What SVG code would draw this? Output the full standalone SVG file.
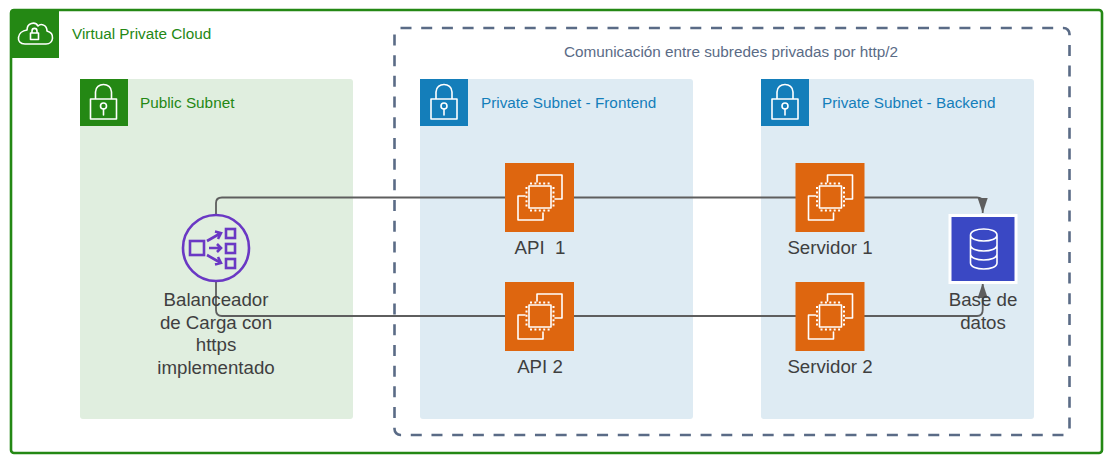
<svg xmlns="http://www.w3.org/2000/svg" width="1116" height="468" viewBox="0 0 1116 468">
<style>
text{font-family:"Liberation Sans",Arial,sans-serif}
.lbl{font-size:18.7px;fill:#3f3f3f;text-anchor:middle;white-space:pre}
.ttl{font-size:15.3px}
.gr{fill:#248814}.bl{fill:#147eba}
.ico{fill:none;stroke:#fff;stroke-width:1.6;stroke-linejoin:round;stroke-linecap:round}
.pin{fill:none;stroke:#fff;stroke-width:2}
.con{fill:none;stroke:#5e5e5e;stroke-width:1.8}
.lb{fill:none;stroke:#6a38c4;stroke-width:2.6}
</style>
<defs>
<marker id="arr" markerUnits="userSpaceOnUse" markerWidth="15" markerHeight="10" refX="15" refY="5" orient="auto" viewBox="0 0 15 10"><path d="M0 0L15 5L0 10Z" fill="#5e5e5e"/></marker>
<g id="lock"><path class="ico" d="M-13 -1H13V19H-13ZM-8 -1V-8C-8 -18 8 -18 8 -8V-1"/><circle class="ico" cx="0" cy="6" r="3"/><path class="ico" d="M0 9V15"/></g>
<g id="ec2"><rect width="69" height="69" fill="#de660f"/>
<path class="ico" d="M32 19V12H57V36H50M20 33H13V57H38V50"/>
<rect class="ico" x="24" y="23" width="22" height="22"/>
<path class="pin" stroke-dasharray="2 2.4" d="M25 20.500H46M25 47.500H46M21.500 24V45M48.500 24V45"/></g>
</defs>

<g id="vpc"><rect x="11" y="10" width="1091" height="443" rx="3" fill="#fff" stroke="#248814" stroke-width="2.6"/>
<path class="gr" d="M10 13Q10 9 14 9H59V58H10Z"/>
<path class="ico" d="M25 44H46C54 44 55 33 47 31C47 25 41 23 38 26C35 21 27 23 27 30C17 31 15 44 25 44Z"/>
<path class="ico" d="M30.500 33H38.500V39.500H30.500ZM32 33V31C32 27.500 37 27.500 37 31V33"/>
<text class="ttl gr" x="72" y="39">Virtual Private Cloud</text></g>

<g id="group-http2"><rect x="394.500" y="28" width="675" height="407" rx="6" fill="none" stroke="#5a6b86" stroke-width="2.600" stroke-dasharray="11 9.700"/>
<text class="ttl" x="731" y="57" text-anchor="middle" fill="#5a6b86">Comunicación entre subredes privadas por http/2</text></g>

<g id="public-subnet"><rect x="80" y="79" width="273" height="340" rx="3" fill="#e0eedf"/>
<rect x="80" y="79" width="48" height="47" class="gr"/><use href="#lock" x="103.500" y="100"/>
<text class="ttl gr" x="140" y="108">Public Subnet</text></g>

<g id="private-frontend"><rect x="420" y="79" width="273" height="340" rx="3" fill="#deebf3"/>
<rect x="420" y="79" width="48" height="47" class="bl"/><use href="#lock" x="444" y="100"/>
<text class="ttl bl" x="481" y="108">Private Subnet - Frontend</text></g>

<g id="private-backend"><rect x="761" y="79" width="273" height="340" rx="3" fill="#deebf3"/>
<rect x="761" y="79" width="48" height="47" class="bl"/><use href="#lock" x="785" y="100"/>
<text class="ttl bl" x="822" y="108">Private Subnet - Backend</text></g>

<g id="connectors">
<path class="con" marker-end="url(#arr)" d="M216 215V203Q216 197.500 222 197.500H977Q982.700 197.500 982.700 203V213"/>
<path class="con" marker-end="url(#arr)" d="M216 282V310Q216 316 222 316H977Q982.700 316 982.700 310V283"/>
</g>

<g id="load-balancer"><circle class="lb" cx="216" cy="248" r="33"/>
<rect class="lb" x="190" y="241" width="14" height="14"/>
<rect class="lb" x="226" y="229" width="9" height="9"/><rect class="lb" x="226" y="244" width="9" height="9"/><rect class="lb" x="226" y="259" width="9" height="9"/>
<path class="lb" d="M207 241L221 233M215 231.500L221 233L218 239M209 248H221M217 244L221 248L217 252M207 255L221 263M218 257L221 263L215 264.500"/>
<text class="lbl"><tspan x="216" y="306">Balanceador</tspan><tspan x="216" y="329">de Carga con</tspan><tspan x="216" y="351">https</tspan><tspan x="216" y="374">implementado</tspan></text></g>

<g id="api-1"><use href="#ec2" x="505" y="163"/><text class="lbl" x="540" y="254">API  1</text></g>
<g id="api-2"><use href="#ec2" x="505" y="282"/><text class="lbl" x="540" y="373">API 2</text></g>
<g id="servidor-1"><use href="#ec2" x="795.500" y="163"/><text class="lbl" x="830" y="254">Servidor 1</text></g>
<g id="servidor-2"><use href="#ec2" x="795.500" y="282"/><text class="lbl" x="830" y="373">Servidor 2</text></g>

<g id="base-de-datos"><rect x="950" y="215.500" width="66" height="67" fill="#3a48c4" stroke="#fff" stroke-width="3"/>
<path class="ico" d="M970.500 235V263C970.500 271 997 271 997 263V235M970.500 235C970.500 227 997 227 997 235C997 243 970.500 243 970.500 235M970.500 245C970.500 253 997 253 997 245M970.500 254C970.500 262 997 262 997 254"/>
<text class="lbl"><tspan x="983" y="306">Base de</tspan><tspan x="983" y="329">datos</tspan></text></g>
</svg>
